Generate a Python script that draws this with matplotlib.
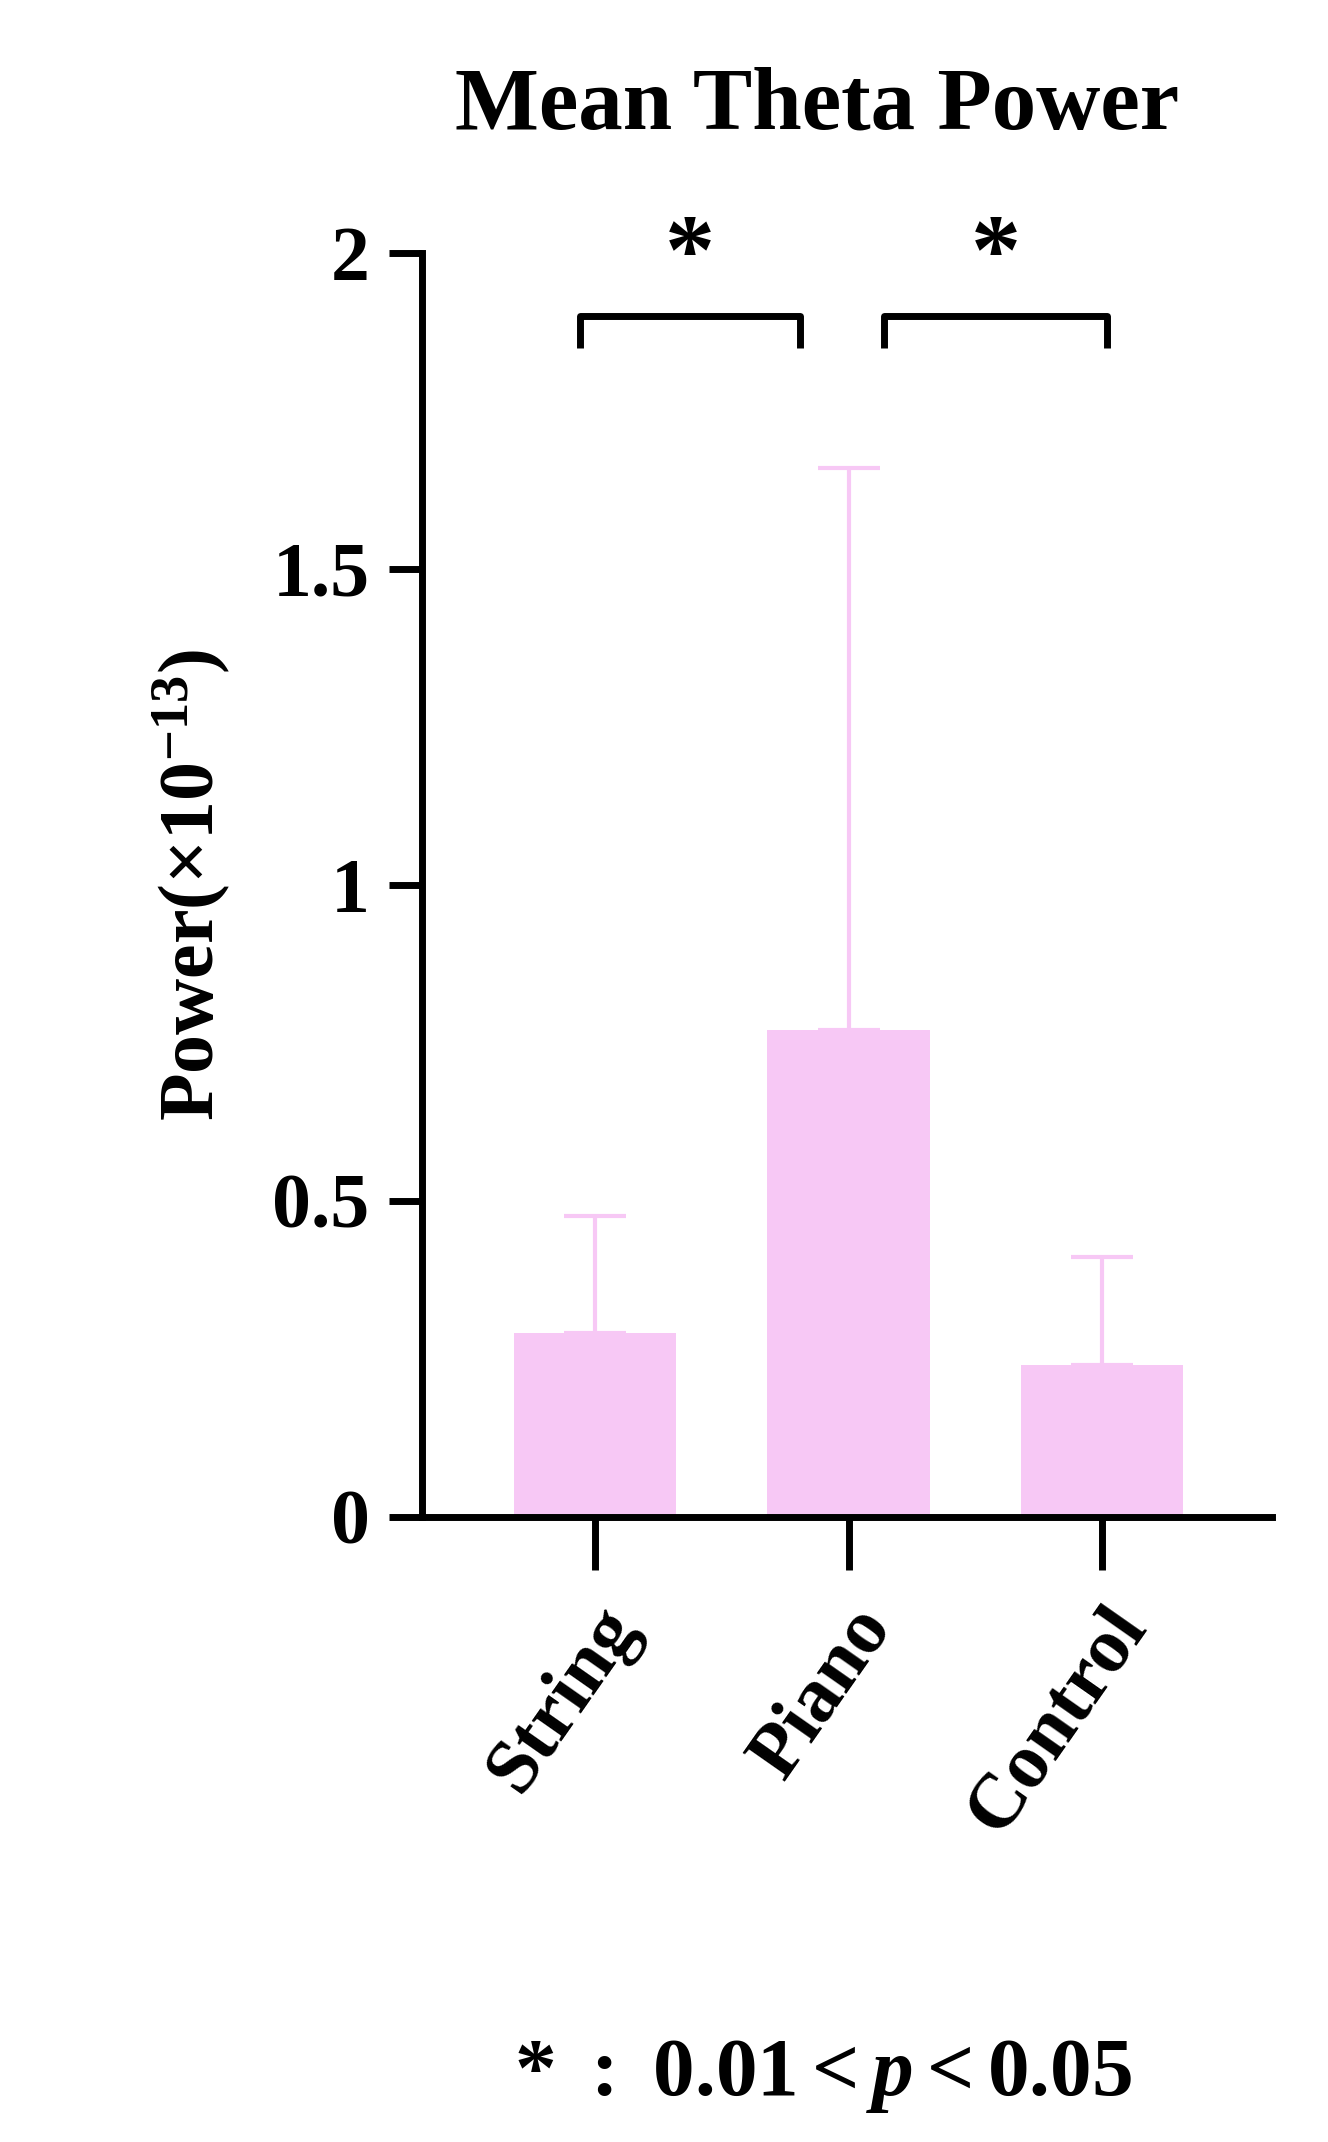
import matplotlib
matplotlib.use("Agg")
import matplotlib.pyplot as plt

# data
groups = ["String", "Piano", "Control"]
means = [0.29, 0.77, 0.24]
upper_err = [0.185, 0.89, 0.17]
pairs = [(0, 1), (1, 2)]
yticks = [0, 0.5, 1, 1.5, 2]
ytick_labels = ["0", "0.5", "1", "1.5", "2"]

plt.rcParams["font.family"] = ["Liberation Serif", "DejaVu Serif"]
plt.rcParams["font.weight"] = "bold"
plt.rcParams["mathtext.fontset"] = "custom"
plt.rcParams["mathtext.rm"] = "Liberation Serif:bold"
plt.rcParams["mathtext.bf"] = "Liberation Serif:bold"
plt.rcParams["mathtext.it"] = "Liberation Serif:italic:bold"

pink = "#f7c8f5"
fig = plt.figure(figsize=(13.28, 21.42), dpi=100)
ax = fig.add_axes([0.318, 0.292, 0.64, 0.59])

x = list(range(len(groups)))
ax.bar(x, means, width=0.64, color=pink, zorder=2)
ax.errorbar(x, means, yerr=[[0] * 3, upper_err], fmt="none", ecolor=pink,
            elinewidth=3, capsize=22, capthick=3, zorder=1)

ax.set_xlim(-0.68, 2.67)
ax.set_ylim(0, 2)
ax.set_yticks(yticks)
ax.set_yticklabels(ytick_labels)
ax.set_xticks(x)
ax.set_xticklabels(groups, rotation=55, ha="right", rotation_mode="anchor")
ax.tick_params(axis="y", length=24, width=5, labelsize=56, pad=14)
ax.tick_params(axis="x", length=38, width=5, labelsize=56, pad=18)
for s in ["top", "right"]:
    ax.spines[s].set_visible(False)
for s in ["left", "bottom"]:
    ax.spines[s].set_linewidth(5)
ax.spines["left"].set_bounds(0, 2)

# significance brackets
for (a, b), (x0, x1) in zip(pairs, [(-0.06, 0.81), (1.14, 2.02)]):
    ax.plot([x0, x0, x1, x1], [1.85, 1.9, 1.9, 1.85], color="black", lw=5,
            clip_on=False, solid_capstyle="butt")
    ax.text((x0 + x1) / 2, 1.92, "*", ha="center", va="bottom", fontsize=72,
            fontweight="bold")

ax.set_ylabel("Power(×10$^{-13}$)", fontsize=56, fontweight="bold", labelpad=28)
fig.text(0.615, 0.94, "Mean Theta Power", ha="center", fontsize=64,
         fontweight="bold")
fig.text(0.62, 0.022, r"$*\ :\ 0.01 < \mathit{p} < 0.05$", ha="center",
         fontsize=60)

fig.savefig("out.png", dpi=100)
